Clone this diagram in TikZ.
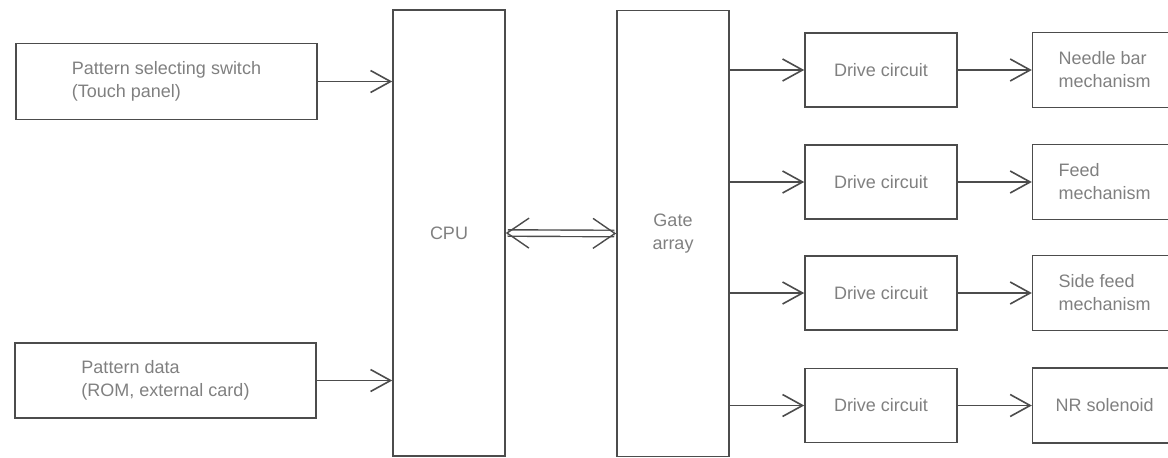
\documentclass[tikz,border=0pt]{standalone}
\usepackage{fontspec}
\setsansfont{Liberation Sans}
\usetikzlibrary{arrows.meta, positioning}

\begin{document}
\begin{tikzpicture}[
      x=1pt, y=-1pt,
      font=\sffamily\fontsize{18}{23}\selectfont,
      >={Straight Barb[length=20pt,width=22pt]},
      block/.style={
        draw=black!70,
        line width=1.6pt,
        text=black!50,
        align=left,
        inner sep=0pt
      },
      unit/.style={
        block,
        minimum width=112pt,
        minimum height=446pt,
        align=center
      },
      drive/.style={
        block,
        minimum width=152pt,
        minimum height=74pt
      },
      mech/.style={
        block,
        minimum width=144pt,
        minimum height=75pt
      },
      link/.style={->, draw=black!70, line width=1.6pt},
      bus/.style={
        {Straight Barb[length=22pt,width=30pt]}-{Straight Barb[length=22pt,width=30pt]},
        draw=black!70, line width=1.4pt, double, double distance=5pt
      }
    ]

    \useasboundingbox (0,0) rectangle (1168,458);

    % Input nodes
    \node[block, minimum width=301pt, minimum height=76pt] (select) at (166.5,81.5)
      {Pattern selecting switch\\(Touch panel)};
    \node[block, minimum width=301pt, minimum height=75pt] (data) at (165.5,380.5)
      {Pattern data\\(ROM, external card)};

    % CPU and gate array
    \node[unit] (cpu) at (449,233) {CPU};
    \node[unit] (gate) at (673,233.5) {Gate\\array};

    % Drive circuits
    \node[drive] (drive1) at (881,70) {Drive circuit};
    \node[drive] (drive2) at (881,182) {Drive circuit};
    \node[drive] (drive3) at (881,293) {Drive circuit};
    \node[drive] (drive4) at (881,405.5) {Drive circuit};

    % Mechanisms
    \node[mech, right=74pt of drive1] (needle) {Needle bar\\mechanism};
    \node[mech, right=74pt of drive2] (feed) {Feed\\mechanism};
    \node[mech, right=74pt of drive3] (sidefeed) {Side feed\\mechanism};
    \node[mech, right=74pt of drive4] (nr) {NR solenoid};

    % Inputs to CPU
    \draw[link] (select.east) -- (select.east -| cpu.west);
    \draw[link] (data.east) -- (data.east -| cpu.west);

    % CPU <-> gate array
    \draw[bus] (cpu.east) -- (gate.west);

    % Gate array to drive circuits to mechanisms
    \foreach \d/\m in {drive1/needle, drive2/feed, drive3/sidefeed, drive4/nr} {
      \draw[link] (gate.east |- \d.west) -- (\d.west);
      \draw[link] (\d.east) -- (\m.west);
    }

  \end{tikzpicture}
\end{document}
